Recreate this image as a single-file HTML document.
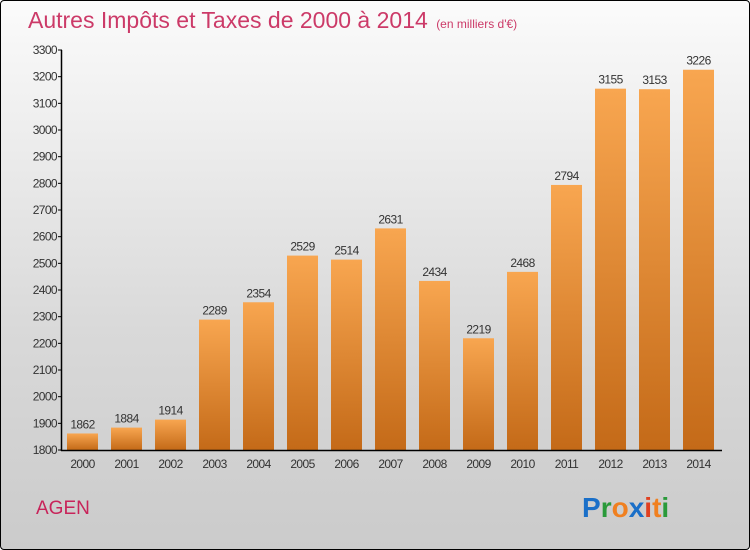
<!DOCTYPE html>
<html><head><meta charset="utf-8"><style>
body{margin:0;width:750px;height:550px;overflow:hidden;font-family:"Liberation Sans",sans-serif}
#root{position:absolute;left:0;top:0;width:748px;height:548px;border:1px solid #000;border-radius:4px;background:linear-gradient(#fbfbfb,#d9d9d9 60%,#cbcbcb)}
</style></head><body>
<div id="root">
<svg width="750" height="550" style="position:absolute;left:-1px;top:-1px">
<defs><linearGradient id="bg" x1="0" y1="0" x2="0" y2="1"><stop offset="0" stop-color="#f8a650"/><stop offset="1" stop-color="#c46a18"/></linearGradient></defs>
<text x="28" y="28" font-size="23" fill="#cc3a68">Autres Impôts et Taxes de 2000 à 2014 <tspan font-size="12" dx="2">(en milliers d'€)</tspan></text>
<g id="g"></g>
<text x="36" y="514" font-size="19" fill="#c8245a">AGEN</text>
<text x="582" y="517" font-size="28" font-weight="bold"><tspan fill="#1a6fc8">P</tspan><tspan fill="#2a9a3a">r</tspan><tspan fill="#f08020">o</tspan><tspan fill="#1a6fc8">x</tspan><tspan fill="#e04020">i</tspan><tspan fill="#f08020">t</tspan><tspan fill="#2a9a3a">i</tspan></text>
</svg></div>
<script>
const years=["2000","2001","2002","2003","2004","2005","2006","2007","2008","2009","2010","2011","2012","2013","2014"];
const values=[1862,1884,1914,2289,2354,2529,2514,2631,2434,2219,2468,2794,3155,3153,3226];
const yTicks=[1800,1900,2000,2100,2200,2300,2400,2500,2600,2700,2800,2900,3000,3100,3200,3300];
const NS="http://www.w3.org/2000/svg",g=document.getElementById('g');
const y=v=>450-(v-1800)*400/1500, x=i=>82.5+i*44;
function mk(t,a,txt){const e=document.createElementNS(NS,t);for(const k in a)e.setAttribute(k,a[k]);if(txt!=null)e.textContent=txt;g.appendChild(e);return e;}
yTicks.forEach(v=>{
 const t=mk('text',{x:57,y:y(v)+4,'font-size':12,'text-anchor':'end',fill:'#333','letter-spacing':'-0.6'},v);
 
 
 const l=mk('line',{x1:58,x2:62,y1:y(v),y2:y(v),stroke:'#000'});
 
 
});
years.forEach((yr,i)=>{
 const r=mk('rect',{x:x(i)-15.5,y:y(values[i]),width:31,height:450-y(values[i]),fill:'url(#bg)'});
 
 
 const v=mk('text',{x:x(i),y:y(values[i])-5,'font-size':12,'text-anchor':'middle',fill:'#333','letter-spacing':'-0.6'},values[i]);
 
 
 const xl=mk('text',{x:x(i),y:468,'font-size':12,'text-anchor':'middle',fill:'#333','letter-spacing':'-0.6'},yr);
 
 
});
const ya=mk('line',{x1:61.5,x2:61.5,y1:50,y2:451,stroke:'#000','stroke-width':1.5});


const xa=mk('line',{x1:61,x2:722,y1:450.5,y2:450.5,stroke:'#000','stroke-width':1.5});


</script>
</body></html>
